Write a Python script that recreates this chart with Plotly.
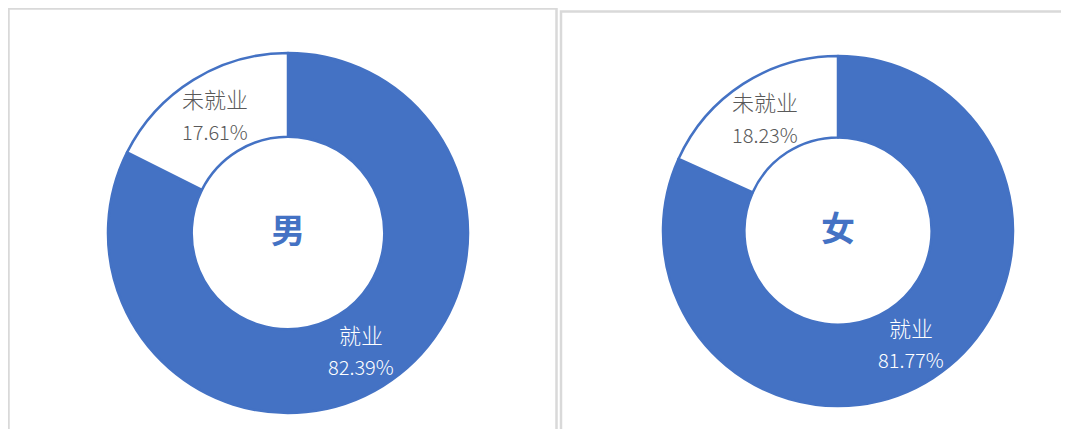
import math
import plotly.graph_objects as go

W, H = 1069, 429
OFF = 8  # page body margin offset

categories = ["就业", "未就业"]
male_values = [82.39, 17.61]
female_values = [81.77, 18.23]
center_titles = ["男", "女"]

BLUE = "#4472C4"
FONT = "Noto Sans CJK SC"
HOLE = 0.535
TEXT_COLORS = ["#FFFFFF", "#595959"]

def fx(px):
    return (px - OFF) / W

def fy(py):
    return 1 - (py - OFF) / H

def px_dom(x0, x1, ytop, ybot):
    return dict(x=[fx(x0), fx(x1)], y=[fy(ybot), fy(ytop)])

domains = [px_dom(108, 468, 53, 413), px_dom(663, 1013, 56, 406)]

fig = go.Figure()
for vals, dom in zip([male_values, female_values], domains):
    fig.add_trace(go.Pie(
        labels=categories,
        values=vals,
        hole=HOLE,
        sort=False,
        direction="clockwise",
        rotation=0,
        domain=dom,
        marker=dict(colors=[BLUE, "#FFFFFF"], line=dict(color=BLUE, width=2.5)),
        textinfo="none",
        hoverinfo="label+percent",
        showlegend=False,
    ))

    # slice labels placed at each slice's mid-angle, mid-ring radius
    cx = (dom["x"][0] + dom["x"][1]) / 2 * W
    cy = (dom["y"][0] + dom["y"][1]) / 2 * H
    r_out = min((dom["x"][1] - dom["x"][0]) * W, (dom["y"][1] - dom["y"][0]) * H) / 2
    r_mid = r_out * (1 + HOLE) / 2
    total = sum(vals)
    cum = 0.0
    for lab, v, col in zip(categories, vals, TEXT_COLORS):
        ang = (cum + v / 2) / total * 2 * math.pi
        cum += v
        px_ = cx + r_mid * math.sin(ang)
        py_ = cy + r_mid * math.cos(ang)
        fig.add_annotation(x=px_ / W, y=py_ / H, xref="paper", yref="paper",
                           text=lab, showarrow=False, yshift=17,
                           font=dict(family=FONT, size=22, color=col, weight=300),
                           xanchor="center", yanchor="middle")
        fig.add_annotation(x=px_ / W, y=py_ / H, xref="paper", yref="paper",
                           text=f"{v:.2f}%", showarrow=False, yshift=-16,
                           font=dict(family=FONT, size=20, color=col, weight=300),
                           xanchor="center", yanchor="middle")

for title, dom in zip(center_titles, domains):
    fig.add_annotation(
        x=sum(dom["x"]) / 2, y=sum(dom["y"]) / 2, xref="paper", yref="paper",
        text="<b>" + title + "</b>", showarrow=False, yshift=5,
        font=dict(family=FONT, size=34, color=BLUE),
        xanchor="center", yanchor="middle",
    )

# panel borders
fig.add_shape(type="rect", xref="paper", yref="paper",
              x0=fx(8.5), x1=fx(556.5), y0=-0.2, y1=fy(8.5),
              line=dict(color="#D9D9D9", width=2.5), layer="below")
fig.add_shape(type="rect", xref="paper", yref="paper",
              x0=fx(561), x1=1.2, y0=-0.2, y1=fy(11.5),
              line=dict(color="#D9D9D9", width=2.5), layer="below")

fig.update_layout(
    width=W, height=H,
    margin=dict(l=0, r=0, t=0, b=0),
    paper_bgcolor="white", plot_bgcolor="white",
    font=dict(family=FONT),
)

fig.write_html("out.html")
